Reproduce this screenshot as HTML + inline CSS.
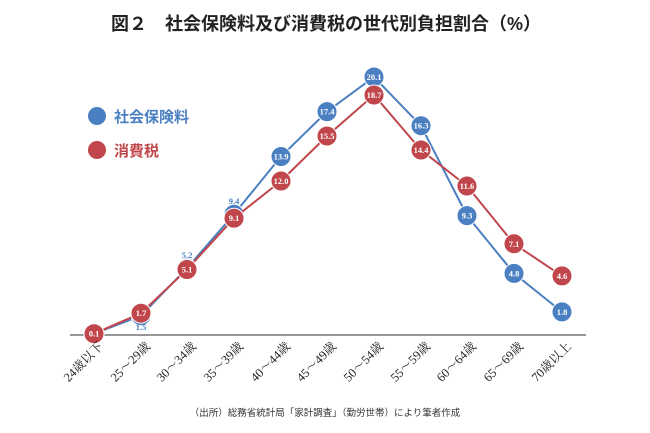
<!DOCTYPE html>
<html><head><meta charset="utf-8"><style>body{margin:0;background:#fff}svg{display:block}</style></head><body>
<svg width="650" height="433" xmlns="http://www.w3.org/2000/svg" font-family="'Liberation Serif','Noto Serif CJK SC',serif">
<text x="326" y="30" text-anchor="middle" font-family="'Liberation Sans','Noto Sans CJK JP',sans-serif" font-weight="bold" font-size="18" fill="#222">図２　社会保険料及び消費税の世代別負担割合（%）</text>
<circle cx="97" cy="116" r="9" fill="#4a7fc1"/>
<text x="114" y="122" font-family="'Liberation Sans','Noto Sans CJK JP',sans-serif" font-weight="bold" font-size="15" fill="#4a7fc1">社会保険料</text>
<circle cx="97" cy="150" r="9" fill="#c0464b"/>
<text x="114" y="156" font-family="'Liberation Sans','Noto Sans CJK JP',sans-serif" font-weight="bold" font-size="15" fill="#c0464b">消費税</text>
<line x1="70" y1="335" x2="586" y2="335" stroke="#777" stroke-width="1.5"/>
<polyline fill="none" stroke="#4a7fc1" stroke-width="2" points="94,333.7 141,315.7 187,268.2 234,214.3 281,156.5 327,111.6 374,77 421,125.7 467,215.6 514,273.4 562,311.9"/>
<g fill="#4a7fc1" stroke="#fff" stroke-width="1">
<circle cx="94" cy="333.7" r="10"/><circle cx="141" cy="315.7" r="10"/><circle cx="187" cy="268.2" r="10"/><circle cx="234" cy="214.3" r="10"/><circle cx="281" cy="156.5" r="10"/><circle cx="327" cy="111.6" r="10"/><circle cx="374" cy="77" r="10"/><circle cx="421" cy="125.7" r="10"/><circle cx="467" cy="215.6" r="10"/><circle cx="514" cy="273.4" r="10"/><circle cx="562" cy="311.9" r="10"/></g>
<polyline fill="none" stroke="#c0464b" stroke-width="2" points="94,333.7 141,313.2 187,269.5 234,218.2 281,181 327,136 374,95 421,150 467,186 514,243.8 562,275.9"/>
<g fill="#c0464b" stroke="#fff" stroke-width="1">
<circle cx="94" cy="333.7" r="10"/><circle cx="141" cy="313.2" r="10"/><circle cx="187" cy="269.5" r="10"/><circle cx="234" cy="218.2" r="10"/><circle cx="281" cy="181" r="10"/><circle cx="327" cy="136" r="10"/><circle cx="374" cy="95" r="10"/><circle cx="421" cy="150" r="10"/><circle cx="467" cy="186" r="10"/><circle cx="514" cy="243.8" r="10"/><circle cx="562" cy="275.9" r="10"/></g>
<g font-size="8.5" font-weight="bold" fill="#fff" text-anchor="middle">
<text x="281" y="159.5">13.9</text><text x="327" y="114.6">17.4</text><text x="374" y="80">20.1</text><text x="421" y="128.7">16.3</text><text x="467" y="218.6">9.3</text><text x="514" y="276.4">4.8</text><text x="562" y="314.9">1.8</text>
<text x="94" y="336.7">0.1</text><text x="141" y="316.2">1.7</text><text x="187" y="272.5">5.1</text><text x="234" y="221.2">9.1</text><text x="281" y="184">12.0</text><text x="327" y="139">15.5</text><text x="374" y="98">18.7</text><text x="421" y="153">14.4</text><text x="467" y="189">11.6</text><text x="514" y="246.8">7.1</text><text x="562" y="278.9">4.6</text>
</g>
<g font-size="8.5" font-weight="bold" fill="#4a7fc1" text-anchor="middle">
<text x="141" y="330">1.5</text><text x="187" y="258">5.2</text><text x="234" y="204">9.4</text></g>
<g font-size="12.5" fill="#222" text-anchor="end">
<text transform="translate(104,347) rotate(-45)">24歳以下</text>
<text transform="translate(151,347) rotate(-45)">25～29歳</text>
<text transform="translate(197,347) rotate(-45)">30～34歳</text>
<text transform="translate(244,347) rotate(-45)">35～39歳</text>
<text transform="translate(291,347) rotate(-45)">40～44歳</text>
<text transform="translate(337,347) rotate(-45)">45～49歳</text>
<text transform="translate(384,347) rotate(-45)">50～54歳</text>
<text transform="translate(431,347) rotate(-45)">55～59歳</text>
<text transform="translate(477,347) rotate(-45)">60～64歳</text>
<text transform="translate(524,347) rotate(-45)">65～69歳</text>
<text transform="translate(572,347) rotate(-45)">70歳以上</text>
</g>
<text x="325" y="416" text-anchor="middle" font-family="'Liberation Sans','Noto Sans CJK JP',sans-serif" font-size="9.5" fill="#333">（出所）総務省統計局「家計調査」（勤労世帯）により筆者作成</text>
</svg>
</body></html>
